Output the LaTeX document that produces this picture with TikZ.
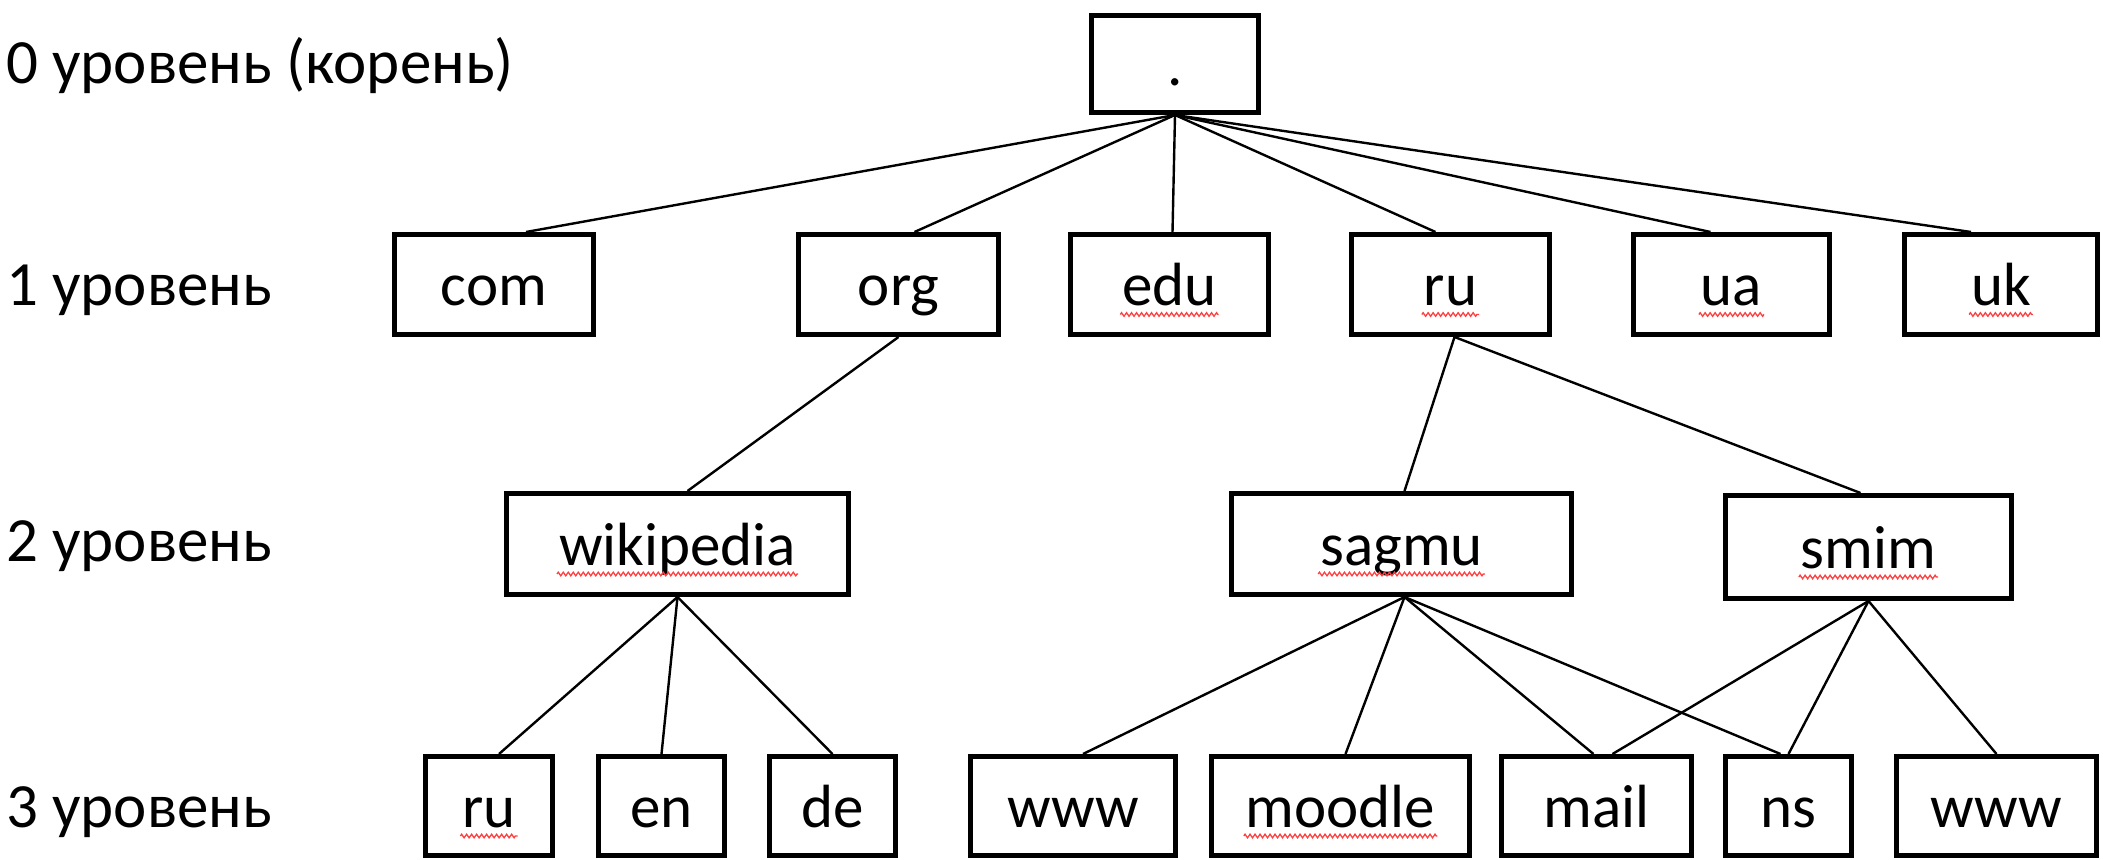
\documentclass[tikz,border=0pt]{standalone}
\usepackage{fontspec}
\setmainfont{Carlito}
\usetikzlibrary{calc,decorations.pathmorphing}

\begin{document}
\begin{tikzpicture}[x=1pt,y=-1pt,
  box/.style={draw, line width=5pt, rectangle, inner sep=0pt,
    font=\fontsize{61}{63}\selectfont, text height=46pt, text depth=4pt},
  lvl/.style={anchor=base west, inner sep=0pt, font=\fontsize{63}{65}\selectfont},
  link/.style={line width=2.4pt},
  squig/.style={draw=red!75!white, line width=1.3pt,
    decorate, decoration={zigzag, segment length=5pt, amplitude=1.8pt}}]

\useasboundingbox[fill=white] (0,0) rectangle (2103,859);

% level captions
\node[lvl] (l0) at (6,83)  {0 уровень (корень)};
\node[lvl] (l1) at (6,305) {1 уровень};
\node[lvl] (l2) at (6,561) {2 уровень};
\node[lvl] (l3) at (6,827) {3 уровень};

% root
\node[box, minimum width=167pt, minimum height=97pt] (root) at (1175,64) {.};

% top-level domains
\begin{scope}[every node/.append style={minimum height=100pt}]
\node[box, minimum width=199pt] (com) at (494,284.5)    {com};
\node[box, minimum width=200pt] (org) at (898.5,284.5)  {org};
\node[box, minimum width=198pt] (edu) at (1169.5,284.5) {edu};
\node[box, minimum width=198pt] (ru)  at (1450.5,284.5) {ru};
\node[box, minimum width=196pt] (ua)  at (1731.5,284.5) {ua};
\node[box, minimum width=193pt] (uk)  at (2001,284.5)   {uk};
\end{scope}

% second level
\node[box, minimum width=342pt, minimum height=101pt] (wiki)  at (677.5,544)  {wikipedia};
\node[box, minimum width=340pt, minimum height=101pt] (sagmu) at (1401.5,544) {sagmu};
\node[box, minimum width=286pt, minimum height=103pt] (smim)  at (1868.5,547) {smim};

% third level
\begin{scope}[every node/.append style={minimum height=99pt}]
\node[box, minimum width=127pt] (ru3)    at (489,806)    {ru};
\node[box, minimum width=126pt] (en)     at (661.5,806)  {en};
\node[box, minimum width=126pt] (de)     at (832.5,806)  {de};
\node[box, minimum width=205pt] (www1)   at (1073,806)   {www};
\node[box, minimum width=258pt] (moodle) at (1340.5,806) {moodle};
\node[box, minimum width=190pt] (mail)   at (1596.5,806) {mail};
\node[box, minimum width=126pt] (ns)     at (1788.5,806) {ns};
\node[box, minimum width=200pt] (www2)   at (1996.5,806) {www};
\end{scope}

% root to top-level domains
\draw[link] (root.south) -- ([xshift=32pt]com.north);
\draw[link] (root.south) -- ([xshift=16pt]org.north);
\draw[link] (root.south) -- ([xshift=3pt]edu.north);
\draw[link] (root.south) -- ([xshift=-15pt]ru.north);
\draw[link] (root.south) -- ([xshift=-21pt]ua.north);
\draw[link] (root.south) -- ([xshift=-30pt]uk.north);

% top-level to second level
\draw[link] (org.south) -- ([xshift=10pt]wiki.north);
\draw[link] ([xshift=4pt]ru.south) -- ([xshift=3pt]sagmu.north);
\draw[link] ([xshift=4pt]ru.south) -- ([xshift=-8pt]smim.north);

% second level to third level
\draw[link] (wiki.south) -- ([xshift=10pt]ru3.north);
\draw[link] (wiki.south) -- (en.north);
\draw[link] (wiki.south) -- (de.north);
\draw[link] ([xshift=3pt]sagmu.south) -- ([xshift=10pt]www1.north);
\draw[link] ([xshift=3pt]sagmu.south) -- ([xshift=5pt]moodle.north);
\draw[link] ([xshift=3pt]sagmu.south) -- ([xshift=-3pt]mail.north);
\draw[link] ([xshift=3pt]sagmu.south) -- ([xshift=-8pt]ns.north);
\draw[link] (smim.south) -- ([xshift=16pt]mail.north);
\draw[link] (smim.south) -- (ns.north);
\draw[link] (smim.south) -- (www2.north);

% spell-check underlines
\foreach \n in {edu,ru,ua,uk,wiki,ru3,sagmu,smim,moodle}{
  \coordinate (\n-m) at (\n.center |- \n.text);
  \draw[squig] ($(\n.text)+(-2,9)$) -- ($(\n.text)!2!(\n-m)+(2,9)$);
}

\end{tikzpicture}
\end{document}
